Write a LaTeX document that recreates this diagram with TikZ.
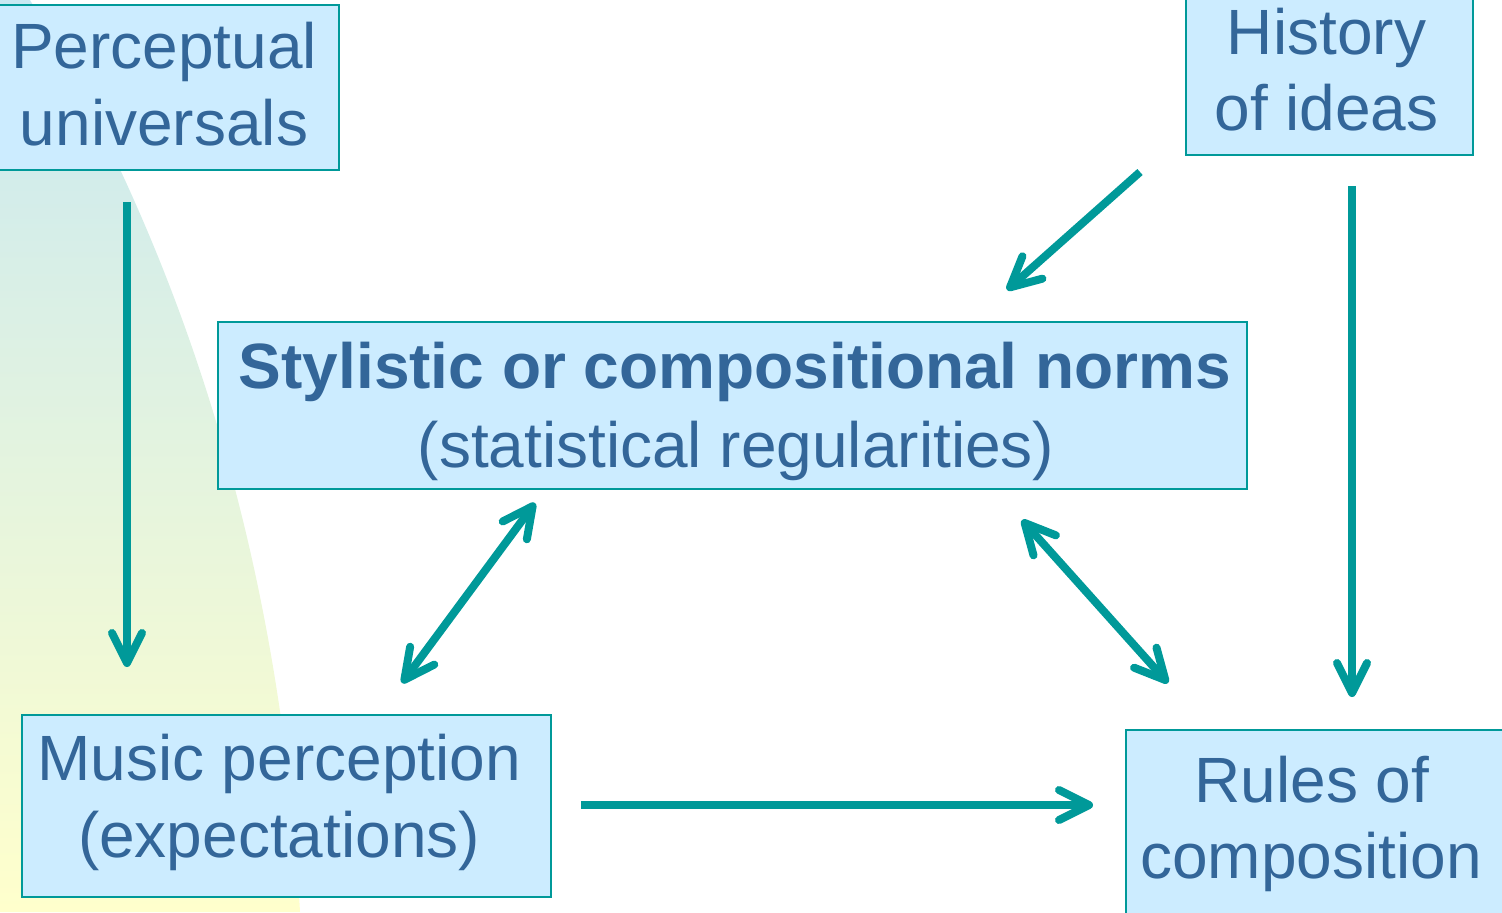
\documentclass[tikz,border=0pt]{standalone}
\usepackage{fontspec}
\setmainfont{Liberation Sans}
\usetikzlibrary{arrows.meta}
\definecolor{boxfill}{HTML}{CCECFF}
\definecolor{arrowc}{HTML}{009999}
\definecolor{txtc}{HTML}{336699}
\definecolor{bgtop}{HTML}{C8E8F2}
\definecolor{bgbot}{HTML}{FFFFCC}
\begin{document}
\begin{tikzpicture}[x=0.5pt,y=-0.5pt,
  box/.style={draw=arrowc, line width=1pt, fill=boxfill, inner sep=0pt},
  txt/.style={text=txtc, inner sep=0pt, anchor=base, font=\fontsize{32}{38}\selectfont},
  conn/.style={draw=arrowc, line width=4pt,
    -{Straight Barb[length=15pt,width=15pt,line cap=round,line join=round]}},
  dconn/.style={draw=arrowc, line width=4pt,
    {Straight Barb[length=15pt,width=15pt,line cap=round,line join=round]}-{Straight Barb[length=15pt,width=15pt,line cap=round,line join=round]}}]
\useasboundingbox (0,0) rectangle (1502,912);
\shade[top color=bgtop, bottom color=bgbot] (0,0) -- (30,0) .. controls (180,250) and (280,550) .. (300,912) -- (0,912) -- cycle;

% boxes
\node[box, minimum width=170.5pt, minimum height=82.5pt] (pu) at (168.5,87.5) {};
\node[box, minimum width=143.5pt, minimum height=78.5pt] (hi) at (1329.5,76.5) {};
\node[box, minimum width=514.5pt, minimum height=83.5pt] (sn) at (732.5,405.5) {};
\node[box, minimum width=264.5pt, minimum height=91pt] (mp) at (286.5,806) {};
\node[box, minimum width=193pt, minimum height=96pt] (rc) at (1319,826) {};

% texts
\node[txt] (pu1) at (164,68) {Perceptual};
\node[txt] (pu2) at (164,145) {universals};
\node[txt] (hi1) at (1326.5,54) {History};
\node[txt] (hi2) at (1326.5,130) {of ideas};
\node[txt] (sn1) at (735,388) {\textbf{Stylistic or compositional norms}};
\node[txt] (sn2) at (736,467) {(statistical regularities)};
\node[txt] (mp1) at (279,780) {Music perception};
\node[txt] (mp2) at (279,857) {(expectations)};
\node[txt] (rc1) at (1312,802) {Rules of};
\node[txt] (rc2) at (1311,878) {composition};

% connector end points
\coordinate (a1s) at (127,202);  \coordinate (a1e) at (127,667);
\coordinate (a2s) at (1140,172); \coordinate (a2e) at (1007,290);
\coordinate (a3s) at (1352,186); \coordinate (a3e) at (1352,697);
\coordinate (a4s) at (402,683);  \coordinate (a4e) at (535,503);
\coordinate (a5s) at (1022,520); \coordinate (a5e) at (1168,683);
\coordinate (a6s) at (581,805);  \coordinate (a6e) at (1093,805);

\draw[conn] (a1s) -- (a1e);
\draw[conn] (a2s) -- (a2e);
\draw[conn] (a3s) -- (a3e);
\draw[dconn] (a4s) -- (a4e);
\draw[dconn] (a5s) -- (a5e);
\draw[conn] (a6s) -- (a6e);
\end{tikzpicture}
\end{document}
